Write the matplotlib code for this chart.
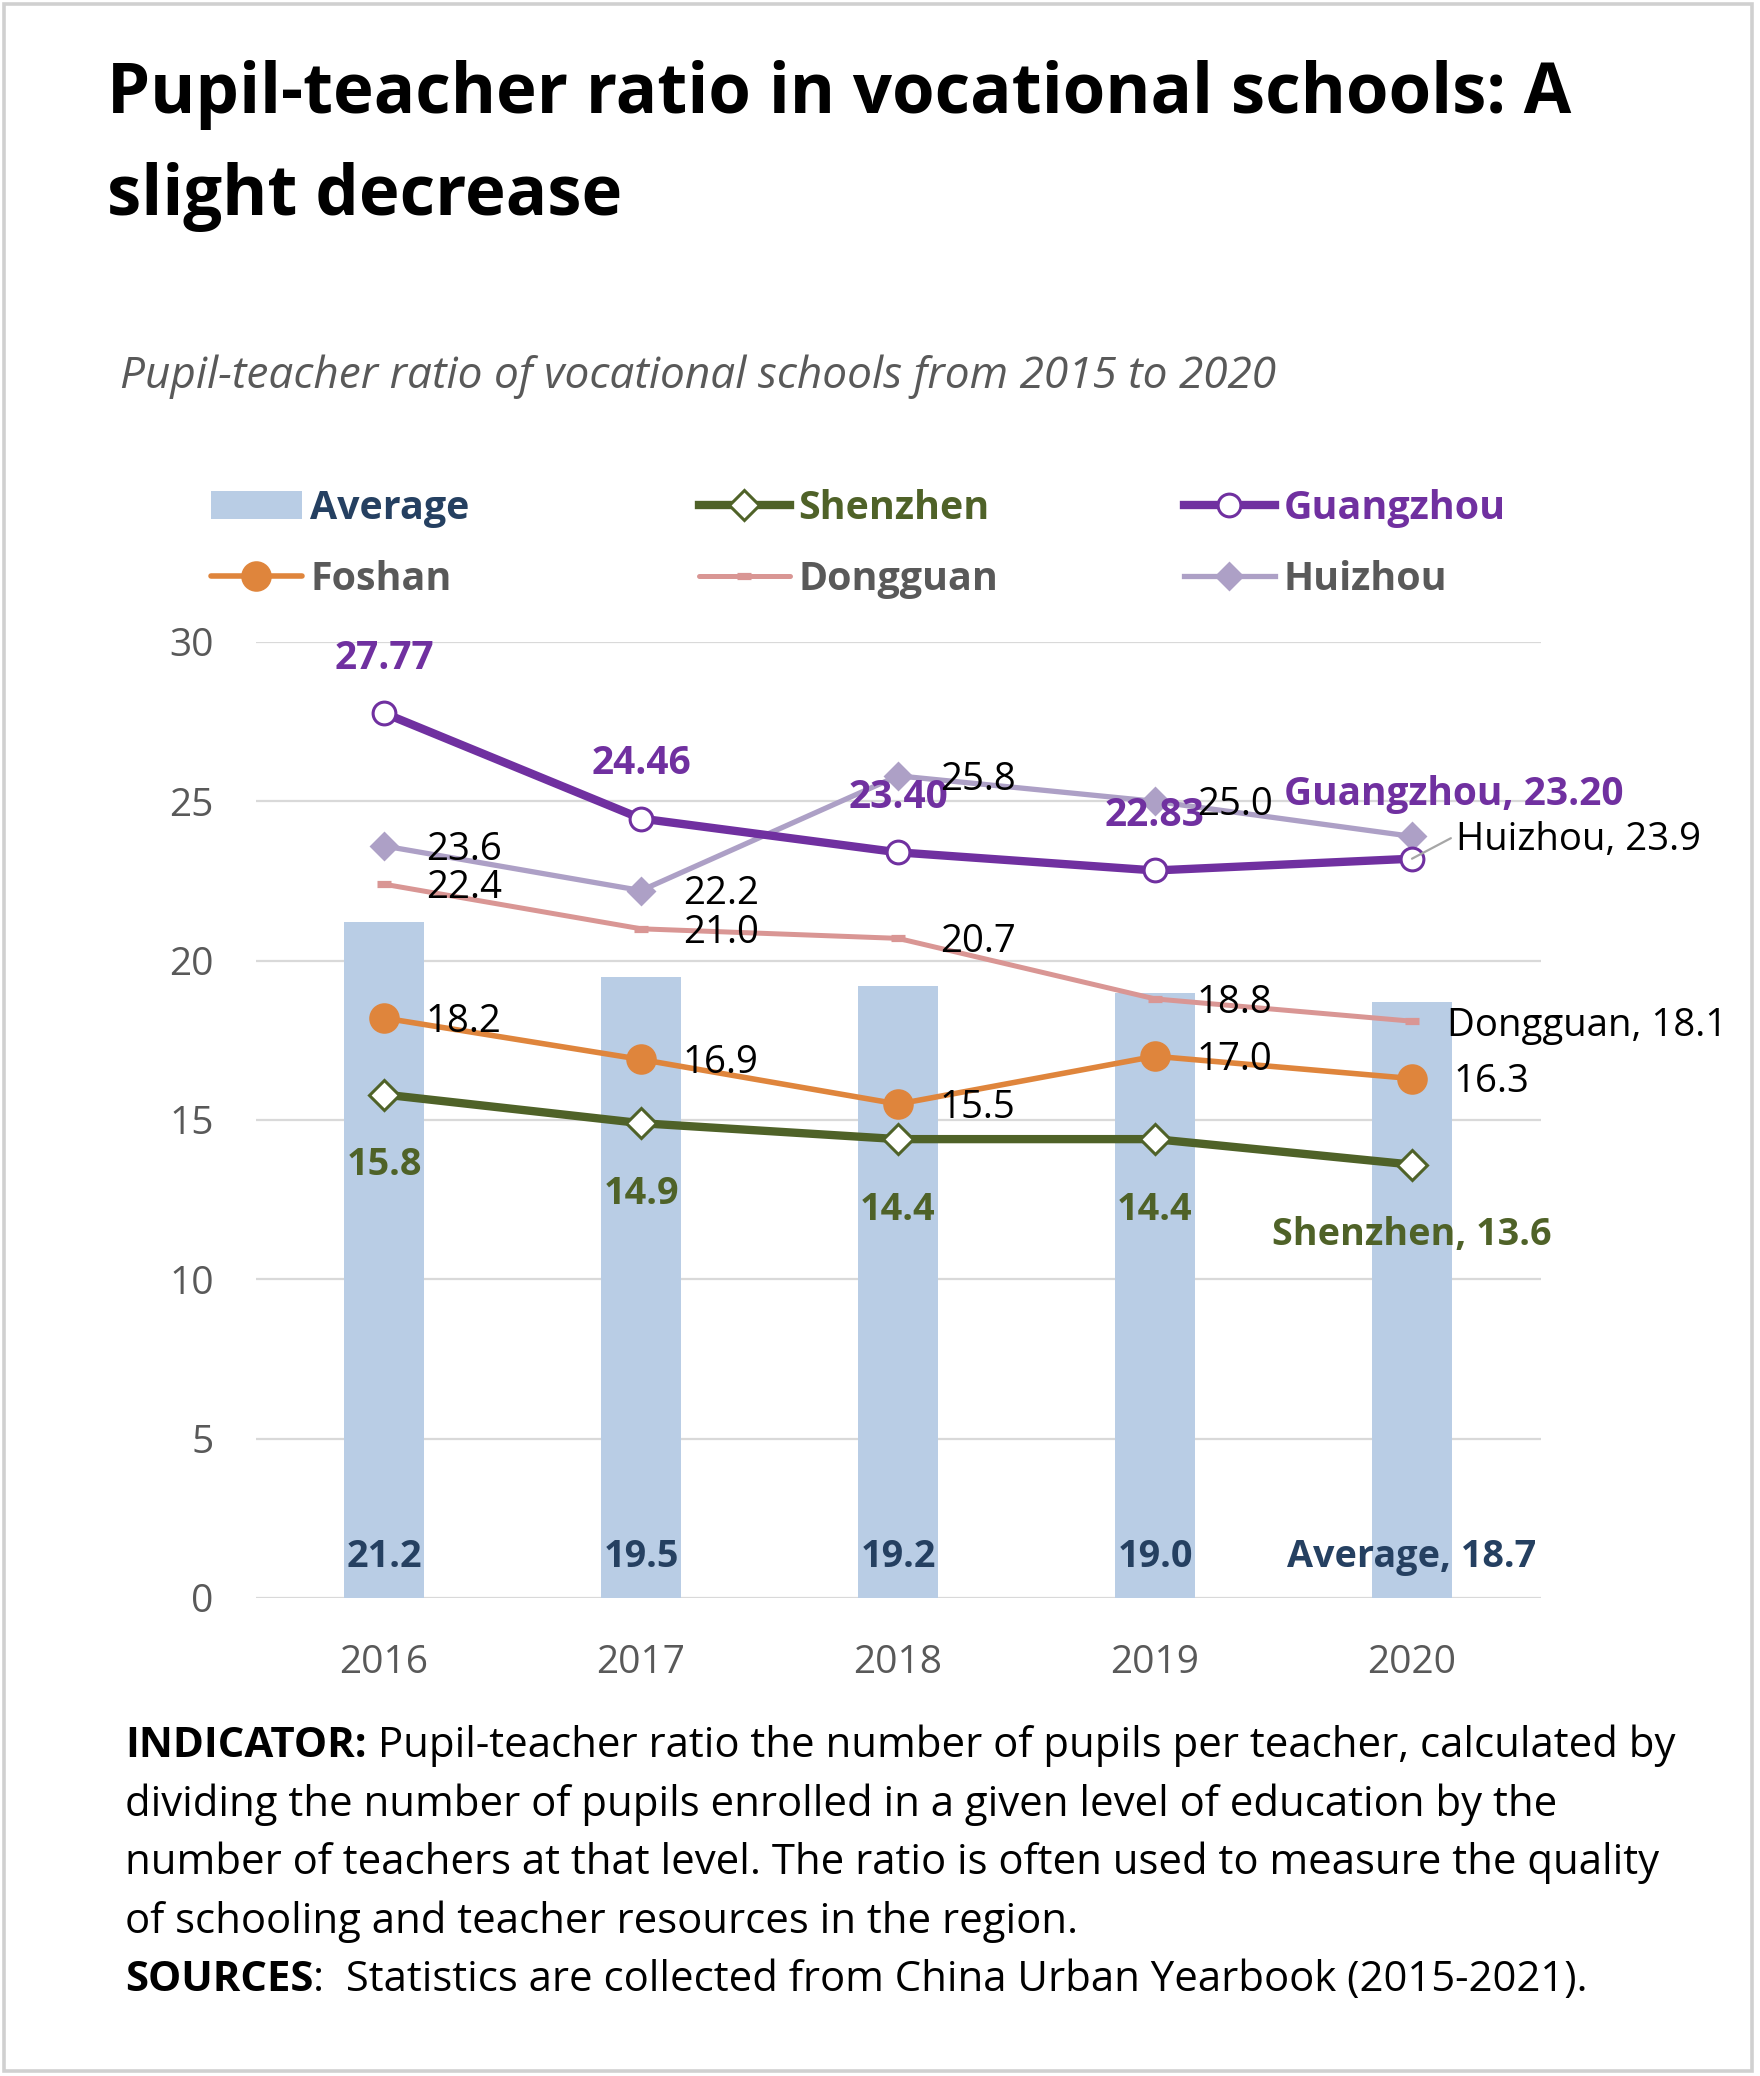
import matplotlib
matplotlib.use("Agg")
import matplotlib.pyplot as plt
from matplotlib.patches import Rectangle

# chart data
years = ["2016", "2017", "2018", "2019", "2020"]
average = [21.2, 19.5, 19.2, 19.0, 18.7]
shenzhen = [15.8, 14.9, 14.4, 14.4, 13.6]
guangzhou = [27.77, 24.46, 23.40, 22.83, 23.20]
foshan = [18.2, 16.9, 15.5, 17.0, 16.3]
dongguan = [22.4, 21.0, 20.7, 18.8, 18.1]
huizhou = [23.6, 22.2, 25.8, 25.0, 23.9]

BAR = "#B9CDE5"
NAVY = "#254061"
GREEN = "#4F6228"
PURPLE = "#7030A0"
ORANGE = "#DF853C"
PINK = "#D99694"
LILAC = "#ADA0C6"
GREY = "#595959"

plt.rcParams["font.family"] = ["Open Sans", "DejaVu Sans"]

W, H, DPI = 1760, 2076, 200
fig = plt.figure(figsize=(W / DPI, H / DPI), dpi=DPI)


def fx(px):
    return px / W


def fy(py):
    return 1 - py / H


ax = fig.add_axes([fx(255.5), fy(1598), (1540.5 - 255.5) / W, (1598 - 642) / H])
x = list(range(len(years)))

bars = ax.bar(x, average, width=0.31, color=BAR, zorder=1, label="Average")
l_hz, = ax.plot(x, huizhou, color=LILAC, lw=1.9, marker="D", ms=6.8,
                mec=LILAC, mfc=LILAC, zorder=3, label="Huizhou")
l_dg, = ax.plot(x, dongguan, color=PINK, lw=1.8, marker="_", ms=5, mew=2.6,
                zorder=3, label="Dongguan", solid_capstyle="round")
l_fs, = ax.plot(x, foshan, color=ORANGE, lw=2.0, marker="o", ms=10,
                zorder=4, label="Foshan", solid_capstyle="round")
l_sz, = ax.plot(x, shenzhen, color=GREEN, lw=3.0, marker="D", ms=7.8,
                mfc="white", mec=GREEN, mew=1.1, zorder=4, label="Shenzhen")
l_gz, = ax.plot(x, guangzhou, color=PURPLE, lw=3.0, marker="o", ms=8.2,
                mfc="white", mec=PURPLE, mew=1.1, zorder=4, label="Guangzhou")
for ln in (l_hz, l_dg, l_fs, l_sz, l_gz):
    ln.set_solid_joinstyle("round")

ax.set_xlim(-0.5, 4.5)
ax.set_ylim(0, 30)
ax.set_yticks(range(0, 31, 5))
ax.set_xticks(x, years)
ax.grid(axis="y", color="#D9D9D9", lw=0.8)
ax.set_axisbelow(True)
for s in ax.spines.values():
    s.set_visible(False)
ax.tick_params(length=0, labelsize=14, labelcolor=GREY)
ax.tick_params(axis="y", pad=15)
ax.tick_params(axis="x", pad=16.5)


def label(i, v, txt, dx, dy, ha, color, bold=False, size=13.8, **kw):
    return ax.annotate(txt, (i, v), xytext=(dx, dy), textcoords="offset points",
                       ha=ha, va="baseline", fontsize=size, color=color,
                       fontweight="bold" if bold else "normal",
                       annotation_clip=False, zorder=6, **kw)


last = len(years) - 1
for i in x:
    # average inside base of bars
    txt = f"Average, {average[i]:.1f}" if i == last else f"{average[i]:.1f}"
    label(i, 0, txt, 0, 11, "center", NAVY, bold=True, size=13.6)
    # guangzhou above
    if i == last:
        label(i, guangzhou[i], f"Guangzhou, {guangzhou[i]:.2f}", 15, 19.5,
              "center", PURPLE, bold=True, size=14)
    else:
        label(i, guangzhou[i], f"{guangzhou[i]:.2f}", 0, 16, "center",
              PURPLE, bold=True, size=14)
    # shenzhen below
    txt = f"Shenzhen, {shenzhen[i]:.1f}" if i == last else f"{shenzhen[i]:.1f}"
    label(i, shenzhen[i], txt, 0, -29, "center", GREEN, bold=True, size=13.6)
    # foshan right
    label(i, foshan[i], f"{foshan[i]:.1f}", 15, -5, "left", "black")
    # dongguan right
    if i == last:
        label(i, dongguan[i], f"Dongguan, {dongguan[i]:.1f}", 12.5, -5.3, "left", "black")
    else:
        label(i, dongguan[i], f"{dongguan[i]:.1f}", 15, -5, "left", "black")
    # huizhou right
    if i == last:
        label(i, guangzhou[i], f"Huizhou, {huizhou[i]:.1f}", 16, 3.2, "left", "black",
              arrowprops=dict(arrowstyle="-", color="#A6A6A6", lw=0.8,
                              shrinkA=0, shrinkB=0, relpos=(0, 0.62)))
    else:
        label(i, huizhou[i], f"{huizhou[i]:.1f}", 15, -5, "left", "black")

# legend, three columns of two rows
legend_cols = [
    ([bars, l_fs], ["Average", "Foshan"], [NAVY, GREY], 211),
    ([l_sz, l_dg], ["Shenzhen", "Dongguan"], [GREEN, GREY], 699),
    ([l_gz, l_hz], ["Guangzhou", "Huizhou"], [PURPLE, GREY], 1184),
]
for handles, names, cols, px in legend_cols:
    leg = fig.legend(handles, names, loc="upper left", bbox_to_anchor=(fx(px), fy(489)),
                     frameon=False, borderpad=0, borderaxespad=0, handlelength=2.3,
                     handletextpad=0.22, labelspacing=0.8,
                     prop={"size": 14.2, "weight": "bold"})
    for t, c in zip(leg.get_texts(), cols):
        t.set_color(c)

# title and subtitle
fig.text(fx(107), fy(113), "Pupil-teacher ratio in vocational schools: A",
         fontsize=24.8, fontweight="bold", va="baseline")
fig.text(fx(107), fy(215), "slight decrease", fontsize=24.8, fontweight="bold",
         va="baseline")
fig.text(fx(120), fy(388), "Pupil-teacher ratio of vocational schools from 2015 to 2020",
         fontsize=15.9, style="italic", color=GREY, va="baseline")

# footer
FOOT = 15.1
b1 = fig.text(fx(125), fy(1757), "INDICATOR:", fontsize=FOOT, fontweight="bold",
              va="baseline")
ax.annotate(" Pupil-teacher ratio the number of pupils per teacher, calculated by",
            xy=(1, 0), xycoords=b1, va="bottom", ha="left", fontsize=FOOT,
            annotation_clip=False)
foot_lines = [
    "dividing the number of pupils enrolled in a given level of education by the",
    "number of teachers at that level. The ratio is often used to measure the quality",
    "of schooling and teacher resources in the region.",
]
for k, line in enumerate(foot_lines):
    fig.text(fx(125), fy(1816 + 58.5 * k), line, fontsize=FOOT, va="baseline")
b2 = fig.text(fx(125), fy(1991), "SOURCES", fontsize=FOOT, fontweight="bold",
              va="baseline")
ax.annotate(":  Statistics are collected from China Urban Yearbook (2015-2021).",
            xy=(1, 0), xycoords=b2, va="bottom", ha="left", fontsize=FOOT,
            annotation_clip=False)

# outer border
fig.add_artist(Rectangle((fx(4), fy(2071)), fx(1752) - fx(4), fy(4) - fy(2071),
                         transform=fig.transFigure, fill=False, ec="#D0D0D0", lw=1.3))

fig.savefig("out.png", dpi=DPI)
